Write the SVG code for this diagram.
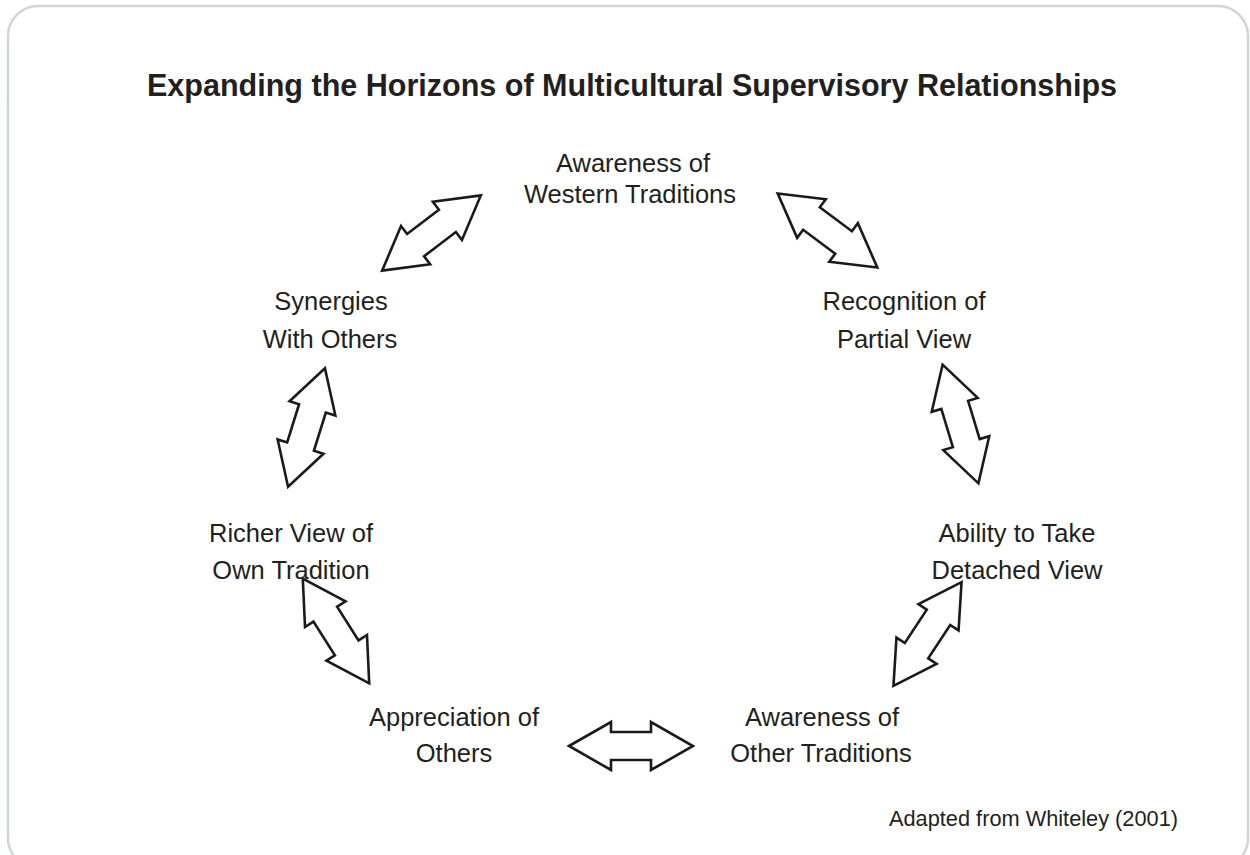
<svg xmlns="http://www.w3.org/2000/svg" xmlns:xlink="http://www.w3.org/1999/xlink" width="1250" height="855" viewBox="0 0 1250 855">
<style>
.frame{fill:#ffffff;stroke:#d1d5d5;stroke-width:2.5}
.title{font-family:"Liberation Sans",Arial,Helvetica,sans-serif;font-weight:bold;font-size:32px;fill:#231f20;text-anchor:middle}
.lbl{font-family:"Liberation Sans",Arial,Helvetica,sans-serif;font-size:25.5px;fill:#231f20;text-anchor:middle}
.note{font-family:"Liberation Sans",Arial,Helvetica,sans-serif;font-size:22px;fill:#231f20;text-anchor:end}
.arr{fill:#ffffff;stroke:#1a1a1a;stroke-width:2.6;stroke-linejoin:miter}
</style>
<defs>
<path id="darrow" class="arr" d="M -62 0 L -20 -24 L -20 -14 L 20 -14 L 20 -24 L 62 0 L 20 24 L 20 14 L -20 14 L -20 24 Z"/>
</defs>
<rect class="frame" x="8" y="6" width="1240" height="862" rx="30" ry="30"/>
<text class="title" x="632" y="96" textLength="970" lengthAdjust="spacingAndGlyphs">Expanding the Horizons of Multicultural Supervisory Relationships</text>

<g id="connectors">
<use xlink:href="#darrow" href="#darrow" transform="translate(431.5,233) rotate(-37.3)"/>
<use xlink:href="#darrow" href="#darrow" transform="translate(827.5,230.5) rotate(36.6)"/>
<use xlink:href="#darrow" href="#darrow" transform="translate(960.5,424) rotate(73.2)"/>
<use xlink:href="#darrow" href="#darrow" transform="translate(927.5,634) rotate(-56.7)"/>
<use xlink:href="#darrow" href="#darrow" transform="translate(631,746)"/>
<use xlink:href="#darrow" href="#darrow" transform="translate(336,631) rotate(57.6)"/>
<use xlink:href="#darrow" href="#darrow" transform="translate(306.5,427.5) rotate(-72.7)"/>
</g>

<g id="node-western">
<text class="lbl" x="633" y="172">Awareness of</text>
<text class="lbl" x="630" y="203">Western Traditions</text>
</g>
<g id="node-recognition">
<text class="lbl" x="904" y="310">Recognition of</text>
<text class="lbl" x="904" y="348">Partial View</text>
</g>
<g id="node-ability">
<text class="lbl" x="1017" y="542">Ability to Take</text>
<text class="lbl" x="1017" y="579">Detached View</text>
</g>
<g id="node-other-traditions">
<text class="lbl" x="822" y="726">Awareness of</text>
<text class="lbl" x="821" y="762">Other Traditions</text>
</g>
<g id="node-appreciation">
<text class="lbl" x="454" y="726">Appreciation of</text>
<text class="lbl" x="454" y="762">Others</text>
</g>
<g id="node-richer">
<text class="lbl" x="291" y="542">Richer View of</text>
<text class="lbl" x="291" y="579">Own Tradition</text>
</g>
<g id="node-synergies">
<text class="lbl" x="331" y="310">Synergies</text>
<text class="lbl" x="330" y="348">With Others</text>
</g>
<text class="note" x="1178" y="826" textLength="289" lengthAdjust="spacingAndGlyphs">Adapted from Whiteley (2001)</text>
</svg>
